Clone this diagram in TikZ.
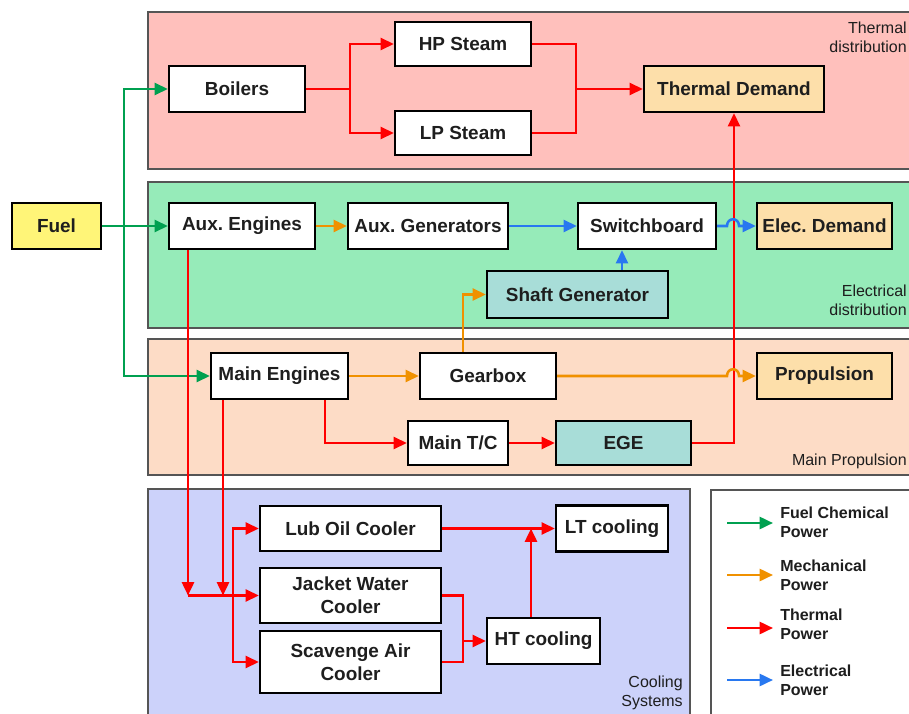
\documentclass[tikz,border=0pt]{standalone}
\usepackage{fontspec}
\setmainfont{Liberation Sans}
\usetikzlibrary{arrows.meta,calc}
\frenchspacing
\definecolor{cgreen}{RGB}{0,160,80}
\definecolor{corange}{RGB}{240,145,0}
\definecolor{cred}{RGB}{255,0,0}
\definecolor{cblue}{RGB}{40,120,240}
\definecolor{thermfill}{RGB}{255,192,188}
\definecolor{elecfill}{RGB}{150,235,185}
\definecolor{propfill}{RGB}{253,220,198}
\definecolor{coolfill}{RGB}{204,210,250}
\definecolor{demfill}{RGB}{253,223,170}
\definecolor{tealfill}{RGB}{168,221,216}
\definecolor{fuelfill}{RGB}{255,245,120}
\definecolor{regborder}{RGB}{85,85,85}
\definecolor{txt}{RGB}{30,30,30}
\begin{document}
\frenchspacing
\begin{tikzpicture}[x=0.75pt,y=-0.75pt,
  box/.style={draw=black, line width=1.7pt, fill=white, inner sep=0pt, text=txt,
    font=\frenchspacing\bfseries\fontsize{14.2}{17}\selectfont, align=center},
  sz/.style 2 args={minimum width=#1*0.75pt, minimum height=#2*0.75pt},
  flow/.style={line width=1.9pt, -{Triangle[length=10pt,width=9pt]}},
  fuelc/.style={flow, draw=cgreen},
  mechc/.style={flow, draw=corange},
  thermc/.style={flow, draw=cred},
  elecc/.style={flow, draw=cblue},
  plain/.style={line width=1.9pt},
  region/.style={draw=regborder, line width=1.5pt},
  reglbl/.style={anchor=east, align=right, inner sep=0pt, text=txt, font=\fontsize{12}{14.3}\selectfont},
  legtxt/.style={anchor=west, align=left, inner sep=0pt, text=txt, font=\bfseries\fontsize{12}{14.3}\selectfont}
]
\useasboundingbox (0,0) rectangle (909,713);
\fill[white] (0,0) rectangle (909,713);

% regions
\draw[region, fill=thermfill] (148,12) rectangle (914,169);
\draw[region, fill=elecfill] (148,182) rectangle (914,328);
\draw[region, fill=propfill] (148,339) rectangle (914,475);
\draw[region, fill=coolfill] (148,489) rectangle (690,718);
\draw[region, fill=white] (711,490) rectangle (914,718);

\node[reglbl] (rl1) at (907,37.5) {Thermal\\distribution};
\node[reglbl] (rl2) at (907,300.5) {Electrical\\distribution};
\node[reglbl] (rl3) at (907,461) {Main Propulsion};
\node[reglbl] (rl4) at (683,692.5) {Cooling\\Systems};

% nodes
\node[box, sz={89}{46}, fill=fuelfill] (fuel) at (56.5,226) {Fuel};
\node[box, sz={136}{46}] (boil) at (237,89) {Boilers};
\node[box, sz={136}{44}] (hp) at (463,44) {HP Steam};
\node[box, sz={136}{44}] (lp) at (463,133) {LP Steam};
\node[box, sz={180}{46}, fill=demfill] (td) at (734,89) {Thermal Demand};
\node[box, sz={146}{46}] (auxe) at (242,226) {Aux. Engines};
\node[box, sz={160}{46}] (auxg) at (428,226) {Aux. Generators};
\node[box, sz={138}{46}] (swb) at (647,226) {Switchboard};
\node[box, sz={135}{46}, fill=demfill] (eld) at (824.5,226) {Elec. Demand};
\node[box, sz={181}{47}, fill=tealfill] (shg) at (577.5,294.5) {Shaft Generator};
\node[box, sz={137}{46}] (me) at (279.5,376) {Main Engines};
\node[box, sz={136}{46}] (gb) at (488,376) {Gearbox};
\node[box, sz={135}{46}, fill=demfill] (prop) at (824.5,376) {Propulsion};
\node[box, sz={100}{44}] (mtc) at (458,443) {Main T/C};
\node[box, sz={135}{44}, fill=tealfill] (ege) at (623.5,443) {EGE};
\node[box, sz={181}{45}] (loc) at (350.5,528.5) {Lub Oil Cooler};
\node[box, sz={181}{55}] (jwc) at (350.5,595.5) {Jacket Water\\Cooler};
\node[box, sz={181}{62}] (sac) at (350.5,662) {Scavenge Air\\Cooler};
\node[box, sz={112}{46}] (ltc) at (612,528.5) {LT cooling};
\node[box, sz={113}{46}] (htc) at (543.5,641) {HT cooling};

% junction coordinates
\coordinate (fj) at (124,226);
\coordinate (bj) at (350,89);
\coordinate (tj) at (576,89);
\coordinate (ja) at (188,595.5);
\coordinate (jb) at (223,595.5);
\coordinate (jc) at (233,595.5);
\coordinate (lj) at (531,528.5);
\coordinate (hj) at (463,641);

% fuel (green)
\draw[fuelc] (fuel.east) -- (auxe.west);
\draw[fuelc] (fj) |- (boil.west);
\draw[fuelc] (fj) |- (me.west);

% thermal (red)
\draw[plain, draw=cred] (boil.east) -- (bj);
\draw[thermc] (bj) |- (hp.west);
\draw[thermc] (bj) |- (lp.west);
\draw[plain, draw=cred] (hp.east) -| (tj);
\draw[plain, draw=cred] (lp.east) -| (tj);
\draw[thermc] (tj) -- (td.west);
\draw[thermc] (ege.east) -| (td.south);
\draw[thermc] ($(me.south)+(45.5,0)$) |- (mtc.west);
\draw[thermc] (mtc.east) -- (ege.west);
\draw[thermc] ($(auxe.south)+(-54,0)$) -- (ja);
\draw[thermc] ($(me.south)+(-56.5,0)$) -- (jb);
\draw[thermc] (ja) -- (jwc.west);
\draw[thermc] (jc) |- (loc.west);
\draw[thermc] (jc) |- (sac.west);
\draw[thermc] (loc.east) -- (ltc.west);
\draw[thermc] ($(htc.north)+(-12.5,0)$) -- (lj);
\draw[plain, draw=cred] (jwc.east) -| (hj);
\draw[plain, draw=cred] (sac.east) -| (hj);
\draw[thermc] (hj) -- (htc.west);

% mechanical (orange)
\draw[mechc] (auxe.east) -- (auxg.west);
\draw[mechc] (me.east) -- (gb.west);
\draw[mechc] ($(gb.north)+(-25,0)$) |- (shg.west);
\draw[mechc] (gb.east) -- (727,376) .. controls (727,367) and (739,367) .. (739,376) -- (prop.west);

% electrical (blue)
\draw[elecc] (auxg.east) -- (swb.west);
\draw[elecc] ($(shg.north)+(44.5,0)$) coordinate (sa) -- (sa |- swb.south);
\draw[elecc] (swb.east) -- (727,226) .. controls (727,217) and (739,217) .. (739,226) -- (eld.west);

% legend
\coordinate (k1a) at (727,523); \coordinate (k1b) at (773,523);
\coordinate (k2a) at (727,575); \coordinate (k2b) at (773,575);
\coordinate (k3a) at (727,628); \coordinate (k3b) at (773,628);
\coordinate (k4a) at (727,680); \coordinate (k4b) at (773,680);
\draw[fuelc] (k1a) -- (k1b);
\draw[mechc] (k2a) -- (k2b);
\draw[thermc] (k3a) -- (k3b);
\draw[elecc] (k4a) -- (k4b);
\node[legtxt] (l1) at (780,522.5) {Fuel Chemical\\Power};
\node[legtxt] (l2) at (780,575.5) {Mechanical\\Power};
\node[legtxt] (l3) at (780,624.5) {Thermal\\Power};
\node[legtxt] (l4) at (780,680.5) {Electrical\\Power};
\end{tikzpicture}
\end{document}
